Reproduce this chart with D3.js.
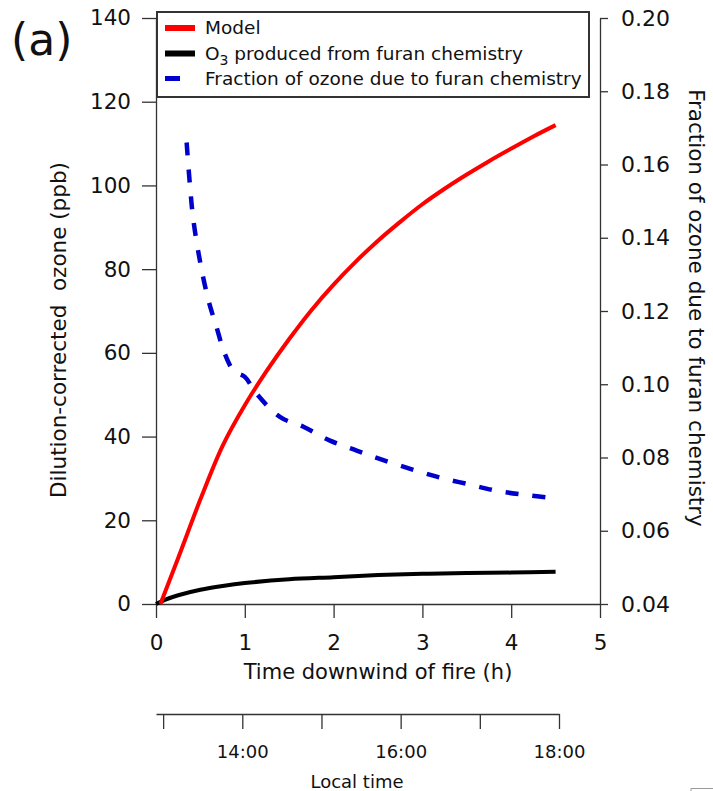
<!DOCTYPE html>
<html>
<head>
<meta charset="utf-8">
<script src="https://cdn.jsdelivr.net/npm/d3@7"></script>
<style>
	body { margin: 0; background: white; }
	text { font-family: "DejaVu Sans", sans-serif; fill: #111; }
</style>
</head>
<body>
<script>
// model ozone (ppb) vs time downwind (h)
var modelTime = [0.05, 0.25, 0.5, 0.75, 1.0, 1.25, 1.5, 1.75, 2.0, 2.25, 2.5, 2.75, 3.0, 3.25, 3.5, 3.75, 4.0, 4.25, 4.5]
var modelO3 = [0, 11, 25, 37.8, 47.5, 55.8, 63.3, 70.2, 76.3, 81.8, 86.8, 91.3, 95.5, 99.2, 102.6, 105.8, 108.8, 111.7, 114.4]

// O3 produced from furan chemistry (ppb)
var furanTime = [0, 0.1, 0.25, 0.5, 0.75, 1.0, 1.5, 2.0, 2.5, 3.0, 3.5, 4.0, 4.5]
var furanO3 = [0, 1.0, 2.1, 3.4, 4.3, 5.0, 5.9, 6.4, 6.9, 7.2, 7.4, 7.5, 7.7]

// fraction of ozone due to furan chemistry (right axis)
var fracTime = [0.345, 0.38, 0.42, 0.5, 0.59, 0.68, 0.78, 0.88, 1.0, 1.13, 1.4, 1.66, 1.96, 2.26, 2.56, 2.9, 3.2, 3.52, 3.84, 4.16, 4.48]
var fracVal = [0.166, 0.155, 0.145, 0.133, 0.123, 0.1157, 0.108, 0.1035, 0.102, 0.0975, 0.091, 0.0884, 0.0846, 0.0819, 0.0793, 0.0766, 0.0745, 0.0727, 0.0709, 0.0698, 0.0689]

var leftTicks = [0, 20, 40, 60, 80, 100, 120, 140]
var rightTicks = [0.04, 0.06, 0.08, 0.10, 0.12, 0.14, 0.16, 0.18, 0.20]
var timeTicks = [0, 1, 2, 3, 4, 5]
var localTicks = [13, 14, 15, 16, 17, 18]
var localLabels = {14: '14:00', 16: '16:00', 18: '18:00'}

var legendLabels = ['Model', 'O3 produced from furan chemistry', 'Fraction of ozone due to furan chemistry']
var legendColors = ['#ff0000', '#000000', '#0000cc']

var width = 713,
	height = 791

var svg = d3.select('body').append('svg')
	.attr('width', width)
	.attr('height', height)

var x = d3.scaleLinear().domain([0, 5]).range([156, 600])
var yL = d3.scaleLinear().domain([0, 140]).range([604, 18])
var yR = d3.scaleLinear().domain([0.04, 0.20]).range([604, 18])
var xLocal = d3.scaleLinear().domain([12.91, 18]).range([156, 559])

function styleAxis(g, size) {
	g.select('.domain').attr('stroke', '#333').attr('stroke-width', 1.3)
	g.selectAll('.tick line').attr('stroke', '#333').attr('stroke-width', 1.3)
	g.selectAll('.tick text')
		.style('font-family', '"DejaVu Sans", sans-serif')
		.style('font-size', size + 'px')
		.attr('fill', '#111')
}

// axes
svg.append('g')
	.attr('transform', 'translate(156,0)')
	.call(d3.axisLeft(yL).tickValues(leftTicks).tickSize(14).tickPadding(11).tickSizeOuter(0))
	.call(g => styleAxis(g, 21.5))

svg.append('g')
	.attr('transform', 'translate(600,0)')
	.call(d3.axisRight(yR).tickValues(rightTicks).tickFormat(d3.format('.2f')).tickSize(8).tickPadding(13).tickSizeOuter(0))
	.call(g => styleAxis(g, 22))

svg.append('g')
	.attr('transform', 'translate(0,604)')
	.call(d3.axisBottom(x).tickValues(timeTicks).tickFormat(d3.format('d')).tickSize(14).tickPadding(17).tickSizeOuter(0))
	.call(g => styleAxis(g, 21.5))

svg.append('g')
	.attr('transform', 'translate(0,714)')
	.call(d3.axisBottom(xLocal).tickValues(localTicks).tickFormat(d => localLabels[d] || '').tickSize(15).tickPadding(16).tickSizeOuter(0))
	.call(g => styleAxis(g, 18))

// axis titles
svg.append('text')
	.attr('transform', 'translate(66,330) rotate(-90)')
	.attr('text-anchor', 'middle')
	.style('font-size', '21.5px')
	.style('white-space', 'pre')
	.text('Dilution-corrected  ozone (ppb)')

svg.append('text')
	.attr('transform', 'translate(689,308) rotate(90)')
	.attr('text-anchor', 'middle')
	.style('font-size', '21.5px')
	.text('Fraction of ozone due to furan chemistry')

svg.append('text')
	.attr('x', 378)
	.attr('y', 679)
	.attr('text-anchor', 'middle')
	.style('font-size', '21px')
	.text('Time downwind of fire (h)')

svg.append('text')
	.attr('x', 357)
	.attr('y', 788)
	.attr('text-anchor', 'middle')
	.style('font-size', '18px')
	.text('Local time')

svg.append('text')
	.attr('x', 11)
	.attr('y', 55)
	.style('font-size', '44px')
	.text('(a)')

// lines
var lineL = d3.line()
	.x(d => x(d[0]))
	.y(d => yL(d[1]))
	.curve(d3.curveCatmullRom.alpha(0.5))

var lineR = d3.line()
	.x(d => x(d[0]))
	.y(d => yR(d[1]))
	.curve(d3.curveCatmullRom.alpha(0.5))

svg.append('path')
	.datum(furanTime.map((t, i) => [t, furanO3[i]]))
	.attr('d', lineL)
	.attr('fill', 'none')
	.attr('stroke', '#000')
	.attr('stroke-width', 4)

svg.append('path')
	.datum(modelTime.map((t, i) => [t, modelO3[i]]))
	.attr('d', lineL)
	.attr('fill', 'none')
	.attr('stroke', '#ff0000')
	.attr('stroke-width', 4)

svg.append('path')
	.datum(fracTime.map((t, i) => [t, fracVal[i]]))
	.attr('d', lineR)
	.attr('fill', 'none')
	.attr('stroke', '#0000cc')
	.attr('stroke-width', 4.5)
	.attr('stroke-dasharray', '13,14')

// LEGEND
svg.append('rect')
	.attr('x', 157)
	.attr('y', 12)
	.attr('width', 432)
	.attr('height', 85)
	.attr('fill', 'white')
	.attr('stroke', '#333')
	.attr('stroke-width', 2)

svg.selectAll('legend_swatch')
	.data(legendLabels)
	.enter()
	.append('rect')
		.attr('x', 165)
		.attr('y', (d, i) => 25 + i * 25.5)
		.attr('width', (d, i) => i == 2 ? 15 : 30)
		.attr('height', (d, i) => i == 2 ? 5 : 6)
		.attr('fill', (d, i) => legendColors[i])

var legendText = svg.selectAll('legend_labels')
	.data(legendLabels)
	.enter()
	.append('text')
		.attr('x', 205)
		.attr('y', (d, i) => 28 + i * 25.5)
		.attr('dy', '0.35em')
		.style('font-size', '18.5px')

legendText.each(function (d, i) {
	var t = d3.select(this)
	if (i == 1) {
		t.append('tspan').text('O')
		t.append('tspan').attr('dy', 5).style('font-size', '14px').text('3')
		t.append('tspan').attr('dy', -5).text(' produced from furan chemistry')
	} else {
		t.text(d)
	}
})

// small corner mark at bottom right
svg.append('path')
	.attr('d', 'M691,791 V788.5 H713')
	.attr('fill', 'none')
	.attr('stroke', '#999')
	.attr('stroke-width', 1)
</script>
</body>
</html>
